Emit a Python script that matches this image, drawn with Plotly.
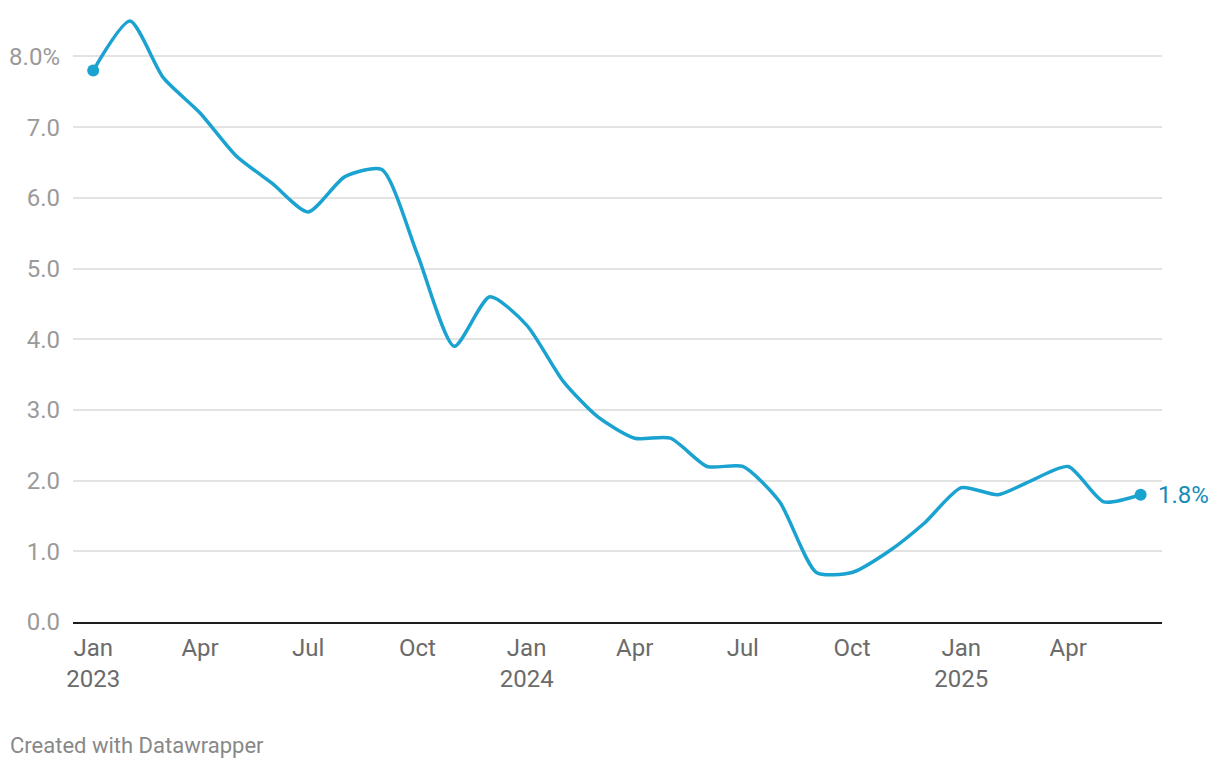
import plotly.graph_objects as go
import pandas as pd

# Monthly values (%), Jan 2023 – Jun 2025
months = pd.date_range("2023-01-01", "2025-06-01", freq="MS")
values = [
    7.8, 8.5, 7.7, 7.2, 6.6, 6.2, 5.8, 6.3, 6.4, 5.2, 3.9, 4.6,   # 2023
    4.2, 3.4, 2.9, 2.6, 2.6, 2.2, 2.2, 1.7, 0.7, 0.7, 1.0, 1.4,   # 2024
    1.9, 1.8, 2.0, 2.2, 1.7, 1.8,                                 # 2025
]

x_tick_dates = ["2023-01-01", "2023-04-01", "2023-07-01", "2023-10-01",
                "2024-01-01", "2024-04-01", "2024-07-01", "2024-10-01",
                "2025-01-01", "2025-04-01"]
x_tick_labels = ["Jan<br>2023", "Apr", "Jul", "Oct",
                 "Jan<br>2024", "Apr", "Jul", "Oct",
                 "Jan<br>2025", "Apr"]

y_tick_vals = [0, 1, 2, 3, 4, 5, 6, 7, 8]
y_tick_labels = ["0.0", "1.0", "2.0", "3.0", "4.0", "5.0", "6.0", "7.0", "8.0%"]

end_label = "1.8%"

LINE = "#1aa2d0"
LABEL = "#168bb8"
FONT = "Roboto"

fig = go.Figure()
fig.add_trace(go.Scatter(
    x=months, y=values, mode="lines",
    line=dict(color=LINE, width=3.5, shape="spline", smoothing=0.65),
    cliponaxis=False, hoverinfo="skip", showlegend=False,
))
fig.add_trace(go.Scatter(
    x=[months[0], months[-1]], y=[values[0], values[-1]], mode="markers",
    marker=dict(color=LINE, size=12),
    cliponaxis=False, hoverinfo="skip", showlegend=False,
))

fig.add_annotation(
    x=months[-1], y=values[-1], xref="x", yref="y",
    text=end_label, showarrow=False, xanchor="left", yanchor="middle",
    xshift=15, font=dict(family=FONT, size=24, color=LABEL),
)

# plot area: x 65..1154, y 6..614 in figure coords
fig.add_annotation(
    x=(0 - 65) / 1089, y=(614 - 737) / 608, xref="paper", yref="paper",
    text="Created with Datawrapper", showarrow=False,
    xanchor="left", yanchor="middle",
    font=dict(family=FONT, size=22, color="#888888"),
)

fig.update_layout(
    width=1212, height=760,
    margin=dict(l=65, r=58, t=6, b=146, pad=0, autoexpand=False),
    paper_bgcolor="white", plot_bgcolor="white",
    font=dict(family=FONT),
    xaxis=dict(
        range=["2022-12-15", "2025-06-19"],
        tickvals=x_tick_dates, ticktext=x_tick_labels,
        tickfont=dict(family=FONT, size=24, color="#6b6b6b"),
        showgrid=False, zeroline=False,
        showline=True, linecolor="#1d1d1d", linewidth=2,
        ticks="", ticklabelstandoff=3, automargin=False,
    ),
    yaxis=dict(
        range=[0, 8.6],
        tickvals=y_tick_vals, ticktext=y_tick_labels,
        tickfont=dict(family=FONT, size=24, color="#9a9a9a"),
        showgrid=True, gridcolor="#e3e3e3", gridwidth=1.5,
        zeroline=False, showline=False, ticks="",
        ticklabelstandoff=12, automargin=False,
    ),
)

fig.write_html("out.html")
